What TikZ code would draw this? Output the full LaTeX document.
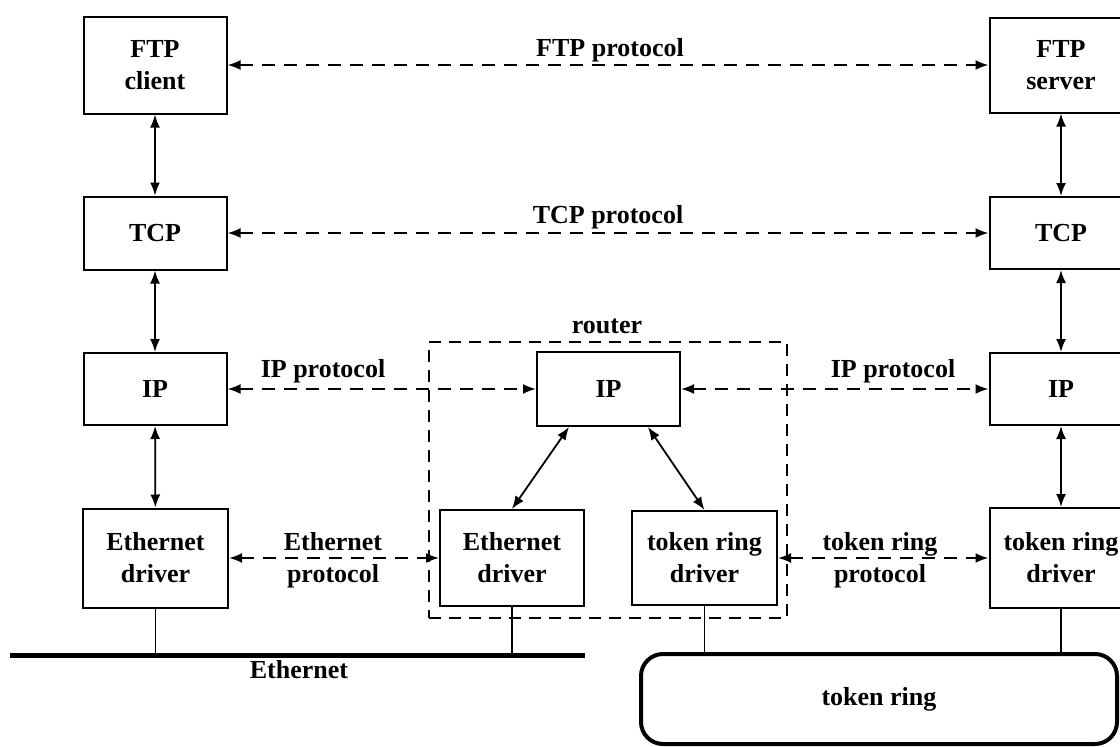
\documentclass[tikz,border=0pt]{standalone}
\usepackage{fontspec}
\setmainfont{Liberation Serif}
\usetikzlibrary{arrows.meta,calc}
\tikzset{
  lbl/.style={font=\bfseries\fontsize{26}{32}\selectfont, align=center, inner sep=0pt},
  box/.style={lbl, draw, line width=2pt, minimum width=143pt},
  tipA/.tip={Latex[length=13pt,width=10pt]},
  biarrow/.style={tipA-tipA, line width=1.8pt},
  proto/.style={biarrow, line width=2pt, dash pattern=on 13pt off 9pt},
  conn/.style={line width=1.8pt},
}
\begin{document}
\begin{tikzpicture}[x=1pt,y=-1pt]
\useasboundingbox (0,0) rectangle (1120,747);
% router dashed enclosure
\node[draw, line width=1.6pt, dash pattern=on 12pt off 8pt, minimum width=358pt, minimum height=276pt, inner sep=0pt] (router) at (608,480) {};
\node[lbl, anchor=base] (routerlbl) at (607,333) {router};
% left host
\node[box, minimum height=97pt] (ftpc) at (155,65) {FTP\\client};
\node[box, minimum height=73pt] (tcpc) at (155,233) {TCP};
\node[box, minimum height=72pt] (ipc) at (155,389) {IP};
\node[box, minimum height=99pt, minimum width=145pt] (ethc) at (155.5,558) {Ethernet\\driver};
% right host
\node[box, minimum height=95pt] (ftps) at (1061,65) {FTP\\server};
\node[box, minimum height=72pt] (tcps) at (1061,233) {TCP};
\node[box, minimum height=72pt] (ips) at (1061,389) {IP};
\node[box, minimum height=100pt] (trs) at (1061,558) {token ring\\driver};
% router
\node[box, minimum height=74pt] (rip) at (608.5,389) {IP};
\node[box, minimum height=96pt, minimum width=144pt] (reth) at (512,558) {Ethernet\\driver};
\node[box, minimum height=94pt, minimum width=145pt] (rtr) at (704.5,558) {token ring\\driver};
% networks
\coordinate (ethL) at (10,655);
\coordinate (ethR) at (585,655);
\draw[line width=5pt] (ethL) -- (ethR);
\node[lbl, anchor=base] (ethlbl) at (299,678) {Ethernet};
\node[lbl, draw, line width=4pt, rounded corners=22pt, minimum width=476pt, minimum height=90pt] (ring) at (879,699) {token ring};
% stack arrows
\draw[biarrow] (ftpc) -- (tcpc);
\draw[biarrow] (tcpc) -- (ipc);
\draw[biarrow] (ipc) -- (ethc);
\draw[biarrow] (ftps) -- (tcps);
\draw[biarrow] (tcps) -- (ips);
\draw[biarrow] (ips) -- (trs);
\draw[biarrow] ([xshift=33pt]rip.south west) -- (reth.north);
\draw[biarrow] ([xshift=-33pt]rip.south east) -- (rtr.north);
% protocol lines
\draw[proto] (ftpc.east) -- (ftps.west);
\draw[proto] (tcpc.east) -- (tcps.west);
\draw[proto] (ipc.east) -- (rip.west);
\draw[proto] (rip.east) -- (ips.west);
\draw[proto] (ethc.east) -- (reth.west);
\draw[proto] (rtr.east) -- (trs.west);
\node[lbl, anchor=base] (ftpp) at (610,56) {FTP protocol};
\node[lbl, anchor=base] (tcpp) at (608,223) {TCP protocol};
\node[lbl, anchor=base] (ippl) at (323,377) {IP protocol};
\node[lbl, anchor=base] (ippr) at (893,377) {IP protocol};
\node[lbl] (ethp) at (333,560) {Ethernet\\protocol};
\node[lbl] (trp) at (880,560) {token ring\\protocol};
% attachments
\draw[conn] (ethc.south) -- (ethc.south |- ethL);
\draw[conn] (reth.south) -- (reth.south |- ethL);
\draw[conn] (rtr.south) -- (rtr.south |- ring.north);
\draw[conn] (trs.south) -- (trs.south |- ring.north);
\end{tikzpicture}
\end{document}
